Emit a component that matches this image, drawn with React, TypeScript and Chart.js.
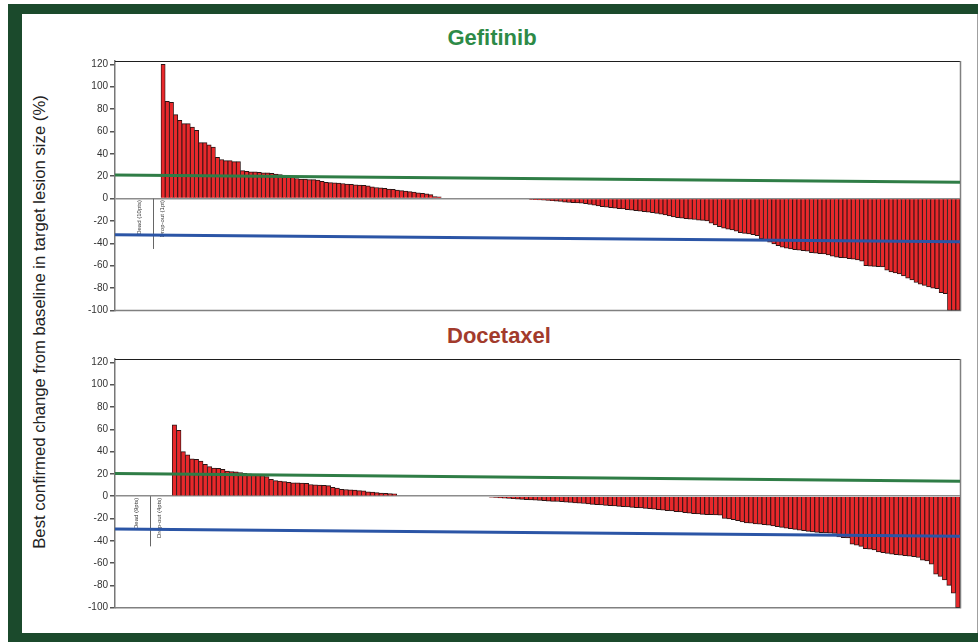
import React, { useEffect, useRef } from 'react';
import { Chart, registerables } from 'chart.js';

Chart.register(...registerables);

// Shared y-axis ticks (%)
const yTicks = [-100, -80, -60, -40, -20, 0, 20, 40, 60, 80, 100, 120];

// Gefitinib arm
const gefitinibDead = 10;
const gefitinibDropout = 1;
const gefitinibChange = [
  120, 87, 86, 75, 70, 67, 67, 64, 61, 50, 50, 48, 46, 37, 35, 34, 34, 33, 33,
  25, 24.5, 24, 24, 23.5, 23, 23, 22.5, 22, 21.5, 20, 19.5, 19, 18, 17.5, 17.5, 17, 17, 16.5, 15.5,
  14.6, 14.3, 14, 13.8, 13.5, 13, 12.8, 12.3, 12, 11.8, 11.5, 10.5, 9.9, 9.6, 9.2, 8.6, 8.2, 7.7,
  7.2, 6.8, 6.3, 5.8, 5.2, 4.7, 4.2, 3.5, 1.8, 1.5,
  0, 0, 0, 0, 0, 0, 0, 0, 0, 0, 0, 0, 0, 0, 0, 0, 0, 0, 0, 0, 0,
  -0.8, -1, -1.2, -1.4, -1.6, -1.9, -2.2, -2.6, -3.2, -3.5,
  -3.7, -3.9, -4.1, -4.6, -5.2, -5.8, -6.5, -7.1, -7.6, -8,
  -8.5, -8.9, -9.3, -9.8, -10.3, -10.8, -11.3, -11.7, -12.1, -12.5,
  -13.2, -14, -14.6, -15.5, -16.4, -17, -17.4, -17.9, -18.3, -18.7,
  -19.2, -19.5, -20, -22, -23.5, -25, -26.5, -27.3, -28, -29,
  -30.4, -31, -31.6, -32.3, -33.2, -36, -37.5, -39, -40.5, -42,
  -43.5, -44.4, -45, -45.6, -46, -46.5, -47, -48.3, -48.8, -49.2,
  -49.5, -50.4, -51.5, -52.4, -52.7, -53, -53.7, -54.2, -54.8, -56,
  -60, -60.3, -60.5, -60.8, -61, -64, -65.5, -66.5, -67.4, -69,
  -71, -72.7, -75, -76.5, -77.5, -79, -80, -80.5, -84, -85,
  -100, -100, -100,
];
// reference lines: value at left edge, value at right edge
const gefitinibUpperLine = [21, 14.7];
const gefitinibLowerLine = [-32.2, -38.5];

// Docetaxel arm
const docetaxelDead = 9;
const docetaxelDropout = 4;
const docetaxelChange = [
  64, 59, 40, 37, 33.5, 33, 31.5, 28.5, 26.5, 25.3, 25, 24, 22.5, 22, 21.8, 21.2, 20.5, 20, 19.5, 19,
  18.5, 17.6, 15, 14, 13.5, 13, 12.5, 12, 12, 11.7, 11.5, 10.5, 10.2, 10, 9.7, 9.5, 8, 7.2, 6.2, 6,
  5.7, 5.4, 5, 4.8, 4, 3.6, 3.2, 2.8, 2.6, 2.3, 2,
  0, 0, 0, 0, 0, 0, 0, 0, 0, 0, 0, 0, 0, 0, 0, 0, 0, 0, 0, 0, 0,
  -1, -1.2, -1.5, -1.7, -2, -2.3, -2.6, -2.9, -3.1, -3.4,
  -3.6, -3.8, -4.1, -4.4, -4.6, -4.8, -5, -5.3, -5.6, -6,
  -6.3, -6.6, -7, -7.3, -7.6, -7.9, -8.2, -8.5, -8.8, -9.1,
  -9.4, -9.7, -10, -10.3, -10.6, -10.9, -11.3, -11.7, -12.1, -12.5,
  -12.9, -13.3, -13.8, -14.2, -14.7, -15.2, -15.6, -16, -16.3, -16.5,
  -16.6, -16.8, -17, -20, -20.3, -21, -22, -23, -24, -24.3,
  -24.8, -25.2, -25.6, -26, -26.6, -27.3, -28, -28.6, -29.2, -29.8,
  -30.4, -31, -31.5, -32, -32.5, -32.8, -33, -33.2, -33.4, -36.5,
  -37.3, -37.5, -43, -44, -45, -47, -47.5, -48.3, -50, -50.6,
  -51.3, -52, -52.5, -53, -53.4, -53.7, -54.2, -55, -57.3, -58,
  -61, -70, -72, -75, -80, -87, -100,
];
const docetaxelUpperLine = [20.3, 13.4];
const docetaxelLowerLine = [-29.5, -36];

const FONT = '"Liberation Sans", Arial, Helvetica, sans-serif';

type PanelProps = {
  change: number[];
  dead: number;
  dropout: number;
  deadLabel: string;
  dropoutLabel: string;
  upper: number[];
  lower: number[];
  top: number;
  height: number;
  padBottom: number;
};

function WaterfallPanel(props: PanelProps) {
  const ref = useRef<HTMLCanvasElement | null>(null);

  useEffect(() => {
    const { change, dead, dropout, deadLabel, dropoutLabel, upper, lower, padBottom } = props;
    const missing = dead + dropout;
    const labels = Array.from({ length: missing + change.length }, (_, i) => String(i + 1));
    const barData = [...Array(missing).fill(null), ...change];

    const framePlugin = {
      id: 'frame',
      beforeDatasetsDraw(chart: any) {
        const { ctx, chartArea } = chart;
        const { left, right, top, bottom } = chartArea;
        const x = chart.scales.x;
        const y = chart.scales.y;
        ctx.save();
        ctx.lineWidth = 1;
        ctx.strokeStyle = '#1e1e1e';
        ctx.beginPath();
        ctx.moveTo(left, Math.round(top) + 0.5);
        ctx.lineTo(right + 1, Math.round(top) + 0.5);
        ctx.stroke();
        ctx.strokeStyle = '#808080';
        ctx.lineWidth = 1.5;
        ctx.beginPath();
        ctx.moveTo(right + 0.5, top);
        ctx.lineTo(right + 0.5, bottom);
        ctx.lineTo(left, bottom);
        ctx.stroke();

        // separator between non-evaluable groups
        const sepX = Math.round(x.getPixelForValue(dead - 1.5)) + 0.5;
        const y0 = y.getPixelForValue(0);
        ctx.strokeStyle = '#666';
        ctx.lineWidth = 1;
        ctx.beginPath();
        ctx.moveTo(sepX, y0);
        ctx.lineTo(sepX, y.getPixelForValue(-45));
        ctx.stroke();

        ctx.fillStyle = '#333';
        ctx.font = `6px ${FONT}`;
        ctx.textAlign = 'right';
        ctx.textBaseline = 'middle';
        const drawV = (text: string, px: number) => {
          ctx.save();
          ctx.translate(px, y0 + 1.5);
          ctx.rotate(-Math.PI / 2);
          ctx.fillText(text, 0, 0);
          ctx.restore();
        };
        drawV(deadLabel, sepX - 14);
        drawV(dropoutLabel, sepX + 8.5);
        ctx.restore();
      },
      // upper and lower reference lines across the full plot width
      afterDatasetsDraw(chart: any) {
        const { ctx, chartArea } = chart;
        const y = chart.scales.y;
        ctx.save();
        ctx.lineWidth = 3;
        ctx.lineCap = 'butt';
        const line = (vals: number[], color: string) => {
          ctx.strokeStyle = color;
          ctx.beginPath();
          ctx.moveTo(chartArea.left, y.getPixelForValue(vals[0]));
          ctx.lineTo(chartArea.right, y.getPixelForValue(vals[1]));
          ctx.stroke();
        };
        line(upper, '#2f7d46');
        line(lower, '#2b55a6');
        ctx.restore();
      },
    };

    const chart = new Chart(ref.current as HTMLCanvasElement, {
      type: 'bar',
      data: {
        labels,
        datasets: [
          {
            data: barData,
            backgroundColor: '#e8282b',
            borderColor: '#2a1414',
            borderWidth: { left: 0.85, right: 0.85, top: 1, bottom: 1 },
            barPercentage: 1,
            categoryPercentage: 1,
          },
        ],
      } as any,
      options: {
        animation: false,
        responsive: false,
        maintainAspectRatio: false,
        layout: { padding: { left: 0, right: 10, top: 10, bottom: padBottom } },
        plugins: { legend: { display: false }, tooltip: { enabled: false } },
        scales: {
          x: {
            type: 'category',
            offset: true,
            grid: { display: false, drawTicks: false },
            ticks: { display: false },
            border: { display: false },
            afterFit: (s: any) => { s.height = 0; },
          },
          y: {
            min: -100,
            max: 123,
            afterBuildTicks: (s: any) => { s.ticks = yTicks.map((v) => ({ value: v })); },
            afterFit: (s: any) => { s.width = 55; },
            grid: {
              color: (c: any) => (c.tick && c.tick.value === 0 ? '#8c8c8c' : 'rgba(0,0,0,0)'),
              tickColor: '#555',
              tickLength: 5,
              lineWidth: 1.5,
            },
            border: { color: '#777', width: 1.5 },
            ticks: { font: { family: FONT, size: 10 }, color: '#333', padding: 2 },
          },
        },
      } as any,
      plugins: [framePlugin],
    });
    return () => chart.destroy();
  }, []);

  return (
    <canvas
      ref={ref}
      width={910}
      height={props.height}
      style={{ position: 'absolute', left: 60, top: props.top, width: 910, height: props.height }}
    />
  );
}

export default function App() {
  return (
    <div style={{ position: 'absolute', left: 0, top: 0, width: 978, height: 642, background: '#fff', fontFamily: FONT }}>
      <div style={{ position: 'absolute', left: 8, top: 4, width: 970, height: 640, background: '#1b4a2c' }} />
      <div
        style={{
          position: 'absolute',
          left: 22,
          top: 14,
          width: 955,
          height: 619,
          background: '#fff',
          borderRight: '1px solid #a0a0a0',
        }}
      />
      <div
        style={{
          position: 'absolute', left: 392, top: 27.4, width: 200, textAlign: 'center',
          font: `bold 22px/22px ${FONT}`, color: '#2d8a47',
        }}
      >
        Gefitinib
      </div>
      <div
        style={{
          position: 'absolute', left: 399, top: 325.4, width: 200, textAlign: 'center',
          font: `bold 22px/22px ${FONT}`, color: '#a23b2c',
        }}
      >
        Docetaxel
      </div>
      <div style={{ position: 'absolute', left: 40, top: 322, width: 0, height: 0 }}>
        <div
          style={{
            position: 'absolute', left: -300, top: -10, width: 600, textAlign: 'center',
            font: `16.7px/20px ${FONT}`, color: '#222', transform: 'rotate(-90deg)', whiteSpace: 'nowrap',
          }}
        >
          Best confirmed change from baseline in target lesion size (%)
        </div>
      </div>
      <WaterfallPanel
        change={gefitinibChange}
        dead={gefitinibDead}
        dropout={gefitinibDropout}
        deadLabel="Dead (10pts)"
        dropoutLabel="Drop-out (1pt)"
        upper={gefitinibUpperLine}
        lower={gefitinibLowerLine}
        top={51}
        height={270}
        padBottom={10.5}
      />
      <WaterfallPanel
        change={docetaxelChange}
        dead={docetaxelDead}
        dropout={docetaxelDropout}
        deadLabel="Dead (9pts)"
        dropoutLabel="Drop-out (4pts)"
        upper={docetaxelUpperLine}
        lower={docetaxelLowerLine}
        top={349}
        height={269}
        padBottom={10.3}
      />
    </div>
  );
}
